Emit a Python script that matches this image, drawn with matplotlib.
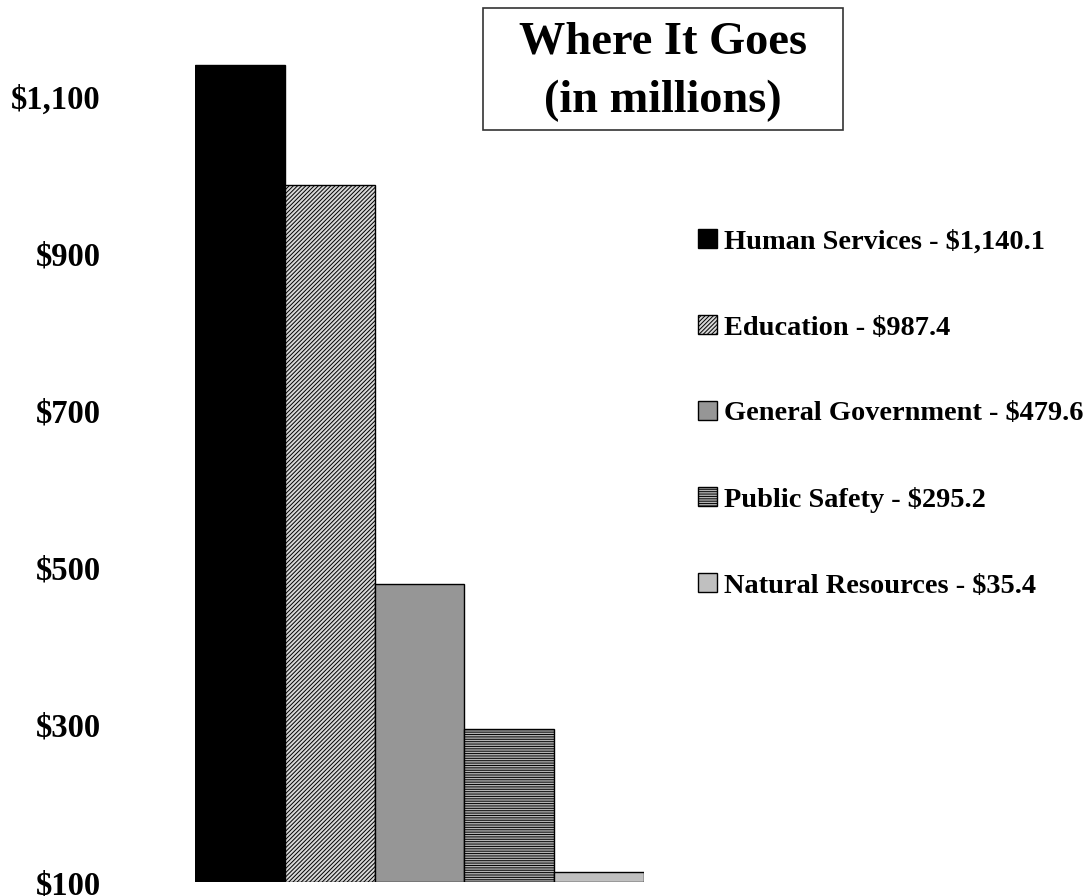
import numpy as np
import matplotlib.pyplot as plt
from matplotlib.patches import Rectangle, Patch

plt.rcParams['font.family'] = ['Liberation Serif', 'DejaVu Serif']
plt.rcParams['font.weight'] = 'bold'
plt.rcParams['hatch.linewidth'] = 0.7

categories = ['Human Services', 'Education', 'General Government',
              'Public Safety', 'Natural Resources']
values = [1140.1, 987.4, 479.6, 295.2, 35.4]
value_labels = ['$1,140.1', '$987.4', '$479.6', '$295.2', '$35.4']
yticks = [100, 300, 500, 700, 900, 1100]
ytick_labels = ['$100', '$300', '$500', '$700', '$900', '$1,100']

facecolors = ['black', '#d8d8d8', '#969696', '#b4b4b4', '#c0c0c0']
hatches = [None, '////////', None, '-------', None]

ymin, ymax = 100, 1200

fig = plt.figure(figsize=(10.87, 8.96), dpi=100)
ax = fig.add_axes([195 / 1087, 14 / 896, 449 / 1087, 864 / 896])

# axis starts at $100; anything under that shows as a short stub
vals = np.array(values)
heights = np.where(vals > ymin, vals - ymin, 12.7)
x = np.arange(len(categories))
bars = ax.bar(x, heights, bottom=ymin, width=1.0, color=facecolors,
              edgecolor='black', linewidth=1.0)
for b, h in zip(bars, hatches):
    if h:
        b.set_hatch(h)

ax.set_xlim(-0.5, 4.5)
ax.set_ylim(ymin, ymax)
ax.set_xticks([])
ax.set_yticks(yticks)
ax.set_yticklabels(ytick_labels, fontsize=23.5, fontweight='bold')
ax.tick_params(axis='y', length=0, pad=68)
for s in ax.spines.values():
    s.set_visible(False)

# legend
handles = [Patch(facecolor=c, edgecolor='black', hatch=h, linewidth=1.0)
           for c, h in zip(facecolors, hatches)]
labels = [f'{c} - {v}' for c, v in zip(categories, value_labels)]
fig.legend(handles, labels, loc='upper left',
           bbox_to_anchor=(698 / 1087, 1 - 229 / 896),
           frameon=False, prop={'weight': 'bold', 'size': 20.4},
           handlelength=0.67, handleheight=0.67, handletextpad=0.25,
           labelspacing=2.13, borderpad=0, borderaxespad=0)

# title box
fig.patches.append(Rectangle((483 / 1087, 1 - 130 / 896), 360 / 1087, 122 / 896,
                             transform=fig.transFigure, facecolor='white',
                             edgecolor='#333333', linewidth=1.2))
fig.text(663 / 1087, 1 - 43 / 896, 'Where It Goes', ha='center', va='center',
         fontsize=33.4, fontweight='bold')
fig.text(663 / 1087, 1 - 101 / 896, '(in millions)', ha='center', va='center',
         fontsize=33.4, fontweight='bold')

fig.savefig('out.png', dpi=100)
